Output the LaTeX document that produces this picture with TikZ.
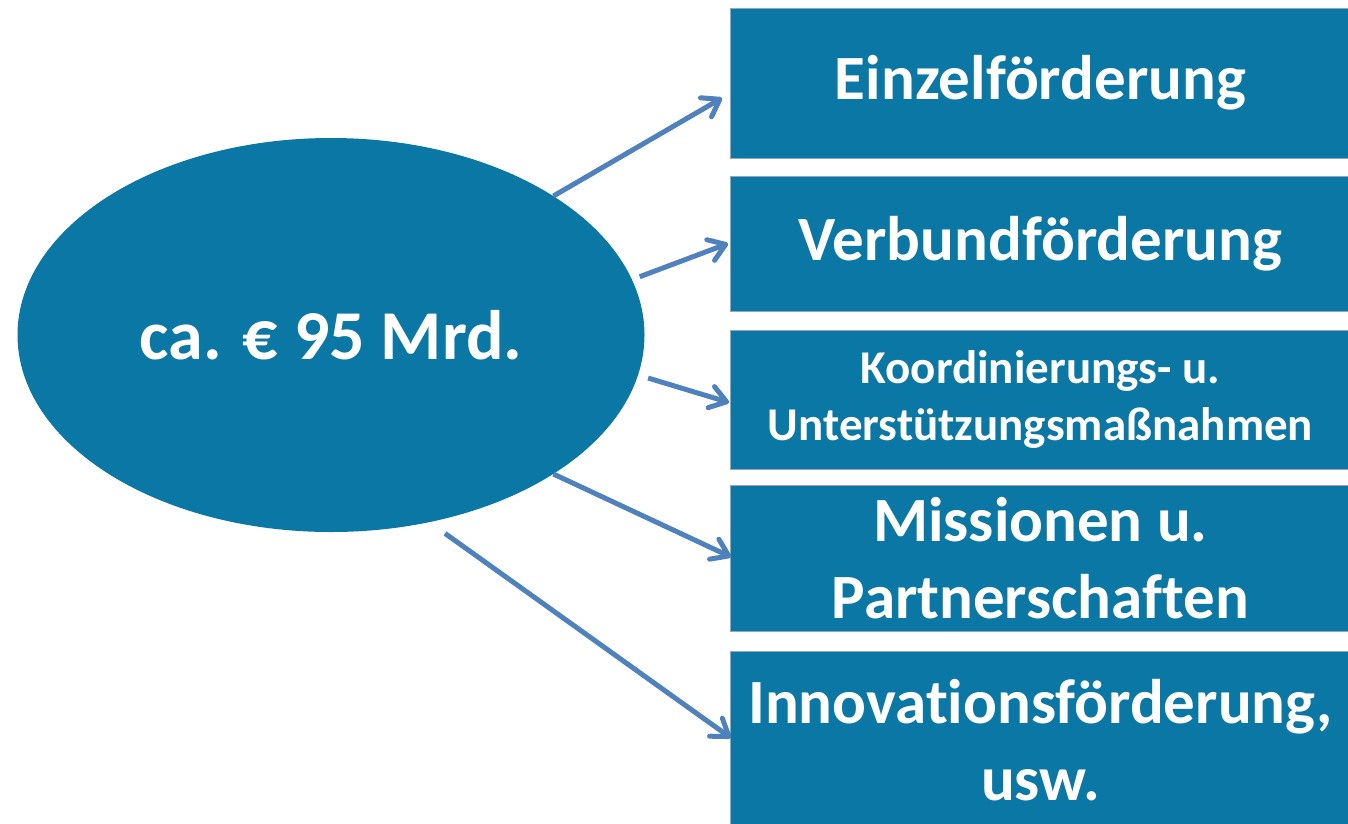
\documentclass[tikz,border=0pt]{standalone}
\usepackage{fontspec}
\setmainfont{Carlito}[Ligatures=NoCommon]
\usetikzlibrary{positioning,shapes,arrows.meta}
\definecolor{boxblue}{RGB}{10,119,165}
\definecolor{arrowblue}{RGB}{79,129,189}
\definecolor{rimgray}{RGB}{150,165,185}
\tikzset{
        pfeil/.style={-{Straight Barb[length=16pt,width=22pt,round]}, line width=5pt, draw=arrowblue}, % the blue arrows
        foerd/.style={rectangle, fill=boxblue, draw=rimgray, line width=0.8pt, text=white, minimum width=620pt, inner sep=0pt, align=center, anchor=west}, % the boxes on the right
        grosstext/.style={font=\bfseries\fontsize{63}{77}\selectfont},
        kleintext/.style={font=\bfseries\fontsize{47}{57}\selectfont},
}
\begin{document}
\begin{tikzpicture}[x=1pt,y=-1pt]
\useasboundingbox (0,0) rectangle (1348,823);

\node[ellipse, fill=boxblue, minimum width=627pt, minimum height=394pt, inner sep=0pt, text=white, font=\bfseries\fontsize{70}{84}\selectfont] (ell) at (331,335) {ca. € 95 Mrd.};

\node[foerd, grosstext, minimum height=150pt] (b1) at (730,83) {Einzelförderung};
\node[foerd, grosstext, minimum height=135pt] (b2) at (730,243.5) {Verbundförderung};
\node[foerd, kleintext, minimum height=139pt] (b3) at (730,399.5) {Koordinierungs- u.\\Unterstützungsmaßnahmen};
\node[foerd, grosstext, minimum height=146pt] (b4) at (730,558) {Missionen u.\\Partnerschaften};
\node[foerd, grosstext, minimum height=178pt] (b5) at (730,740) {Innovationsförderung,\\usw.};

\draw[pfeil] (ell.32) -- ([xshift=-8pt,yshift=-15pt]b1.west);
\draw[pfeil] ([xshift=9pt]ell.11) -- ([xshift=-2pt]b2.west);
\draw[pfeil] ([xshift=11pt]ell.-8) -- ([xshift=-1pt,yshift=-3pt]b3.west);
\draw[pfeil] (ell.-32) -- ([xshift=1pt,yshift=1pt]b4.west);
\draw[pfeil] ([xshift=7pt,yshift=-13pt]ell.-60) -- ([xshift=1pt,yshift=2pt]b5.west);

\end{tikzpicture}
\end{document}
